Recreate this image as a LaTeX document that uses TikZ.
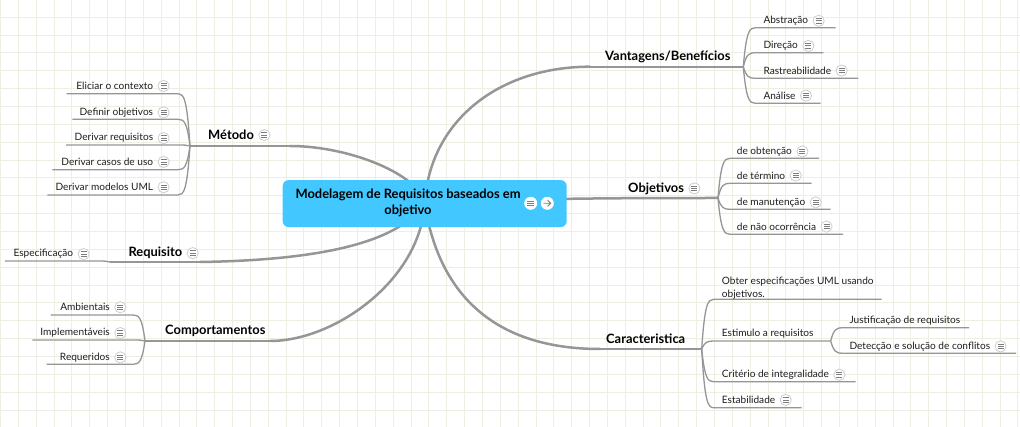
\documentclass[tikz,border=0pt]{standalone}
\usepackage{fontspec}
\setmainfont{Lato}
\usetikzlibrary{calc,backgrounds}
\definecolor{gridc}{RGB}{234,240,226}
\definecolor{linec}{RGB}{150,150,150}
\definecolor{rootc}{RGB}{66,199,255}
\definecolor{ringc}{RGB}{205,205,205}
\definecolor{barc}{RGB}{125,125,125}
\definecolor{txtc}{RGB}{30,30,30}
\tikzset{
  gridline/.style={draw=gridc, line width=1pt},
  mainline/.style={draw=linec, line width=2.5pt, line cap=round},
  topicline/.style={draw=linec, line width=2pt},
  subline/.style={draw=linec, line width=1.3pt},
  child/.style={font=\fontsize{10.1}{12}\selectfont, text=txtc, inner sep=0pt},
  topic/.style={font=\bfseries\fontsize{12.9}{15}\selectfont, text=black, inner sep=0pt},
  noteicon/.pic={
    \fill[white] (0,0) circle (5.6);
    \draw[ringc, line width=0.8pt] (0,0) circle (5.6);
    \draw[barc, line width=0.9pt] (-3,-2.2) -- (3,-2.2) (-3,0) -- (3,0) (-3,2.2) -- (3,2.2);
  },
}
% left-side child: name, bracket, line y, far x, text right x, text
\newcommand\lkid[6]{%
  \coordinate (#1-e) at (#4,#3);
  \coordinate (#1-s) at ($(#2 |- #1-e)+(-12,0)$);
  \node[child, anchor=mid east] (#1) at (#5,#3-6.6) {#6};
  \draw[subline] (#2) .. controls ($(#2)!0.9!(#2 |- #1-e)+(-3,0)$) and ($(#1-s)+(6,0)$) .. (#1-s) -- (#1-e);
}
% right-side child: name, bracket, line y, far x, text left x, text
\newcommand\rkid[6]{%
  \coordinate (#1-e) at (#4,#3);
  \coordinate (#1-s) at ($(#2 |- #1-e)+(12,0)$);
  \node[child, anchor=mid west] (#1) at (#5,#3-6.6) {#6};
  \draw[subline] (#2) .. controls ($(#2)!0.9!(#2 |- #1-e)+(3,0)$) and ($(#1-s)+(-6,0)$) .. (#1-s) -- (#1-e);
}
\newcommand\noteafter[1]{\pic at ($(#1.east)+(10.3,0)$) {noteicon};}
\begin{document}
\begin{tikzpicture}[x=1pt,y=-1pt]
\useasboundingbox (0,0) rectangle (1020,427);

% central topic
\node[fill=rootc, rounded corners=6pt, minimum width=284pt, minimum height=47pt, inner sep=0pt,
      font=\bfseries\fontsize{12.9}{15.7}\selectfont] (root) at (424.7,203.6)
  {\begin{tabular}{@{}c@{}}Modelagem de Requisitos baseados em\\objetivo\end{tabular}\hspace*{33.4pt}};
\fill[white] (530.7,203.3) circle (6.5);
\draw[barc, line width=0.9pt] (527.4,201) -- (534,201) (527.4,203.3) -- (534,203.3) (527.4,205.6) -- (534,205.6);
\fill[white] (547.3,203.3) circle (6.5);
\draw[barc, line width=0.9pt, line cap=round] (543.8,203.3) -- (550.6,203.3) (547.8,200.3) -- (550.8,203.3) -- (547.8,206.3);

% junctions
\coordinate (vanJ) at (590,66.7);  \coordinate (vanB) at (743.3,66.7);
\coordinate (objB) at (718,198);
\coordinate (carJ) at (600,349);   \coordinate (carB) at (701.7,349);
\coordinate (metJ) at (290,146);   \coordinate (metB) at (190,146);
\coordinate (reqJ) at (200,262);   \coordinate (reqB) at (110,262);
\coordinate (comJ) at (270,341);   \coordinate (comB) at (145,341);

\begin{pgfonlayer}{background}
  \fill[white] (0,0) rectangle (1020,427);
  \foreach \i in {0,...,57} \draw[gridline] ({0.5+17.85*\i},0) -- ({0.5+17.85*\i},427);
  \foreach \j in {1,...,24} \draw[gridline] (0,{-0.55+17.85*\j}) -- (1020,{-0.55+17.85*\j});
  \draw[mainline] (root.center) .. controls ($(root.center)+(5,-83.6)$) and ($(vanJ)+(-90,0)$) .. (vanJ);
  \draw[mainline] (root.center) .. controls ($(root.center)+(95,-5)$) and ($(objB)+(-120,0)$) .. (objB);
  \draw[mainline] (root.center) .. controls ($(root.center)+(15,96.4)$) and ($(carJ)+(-100,0)$) .. (carJ);
  \draw[mainline] (root.center) .. controls ($(root.center)+(-4.7,-28.6)$) and ($(metJ)+(60,0)$) .. (metJ);
  \draw[mainline] (root.center) .. controls ($(root.center)+(-25,36.4)$) and ($(reqJ)+(130,-2)$) .. (reqJ);
  \draw[mainline] (root.center) .. controls ($(root.center)+(-4.7,76.4)$) and ($(comJ)+(65,0)$) .. (comJ);
\end{pgfonlayer}

% topic underlines
\draw[topicline] (vanJ) -- (vanB);
\draw[topicline] (carJ) -- (carB);
\draw[topicline] (metJ) -- (metB);
\draw[topicline] (reqJ) -- (reqB);
\draw[topicline] (comJ) -- (comB);

% main topics
\node[topic, anchor=mid west] (van) at (605,58.3) {Vantagens/Benefícios};
\node[topic, anchor=mid west] (obj) at (628,189.5) {Objetivos}; \noteafter{obj}
\node[topic, anchor=mid west] (car) at (606,340.8) {Caracteristica};
\node[topic, anchor=mid west] (met) at (208,137.3) {Método}; \noteafter{met}
\node[topic, anchor=mid west] (req) at (128.3,254.3) {Requisito}; \noteafter{req}
\node[topic, anchor=mid west] (com) at (165,332.3) {Comportamentos};

% Vantagens/Beneficios
\rkid{abs}{vanB}{27.7}{835.7}{763.3}{Abstração} \noteafter{abs}
\rkid{dir}{vanB}{52.7}{823.3}{763.3}{Direção} \noteafter{dir}
\rkid{ras}{vanB}{78.3}{858.3}{763.3}{Rastreabilidade} \noteafter{ras}
\rkid{ana}{vanB}{103.3}{820.7}{763.3}{Análise} \noteafter{ana}

% Objetivos
\rkid{obt}{objB}{158.3}{819}{736.7}{de obtenção} \noteafter{obt}
\rkid{ter}{objB}{183.3}{811.7}{736.7}{de término} \noteafter{ter}
\rkid{man}{objB}{209.3}{830.7}{736.7}{de manutenção} \noteafter{man}
\rkid{nao}{objB}{234.3}{843}{736.7}{de não ocorrência} \noteafter{nao}

% Caracteristica
\coordinate (obter-e) at (881.7,299.3);
\coordinate (obter-s) at ($(carB |- obter-e)+(12,0)$);
\node[child, anchor=west, align=left, font=\fontsize{10.1}{12.3}\selectfont] (obter) at (721.7,288.3)
  {Obter especificações UML usando\\objetivos.};
\draw[subline] (carB) .. controls ($(carB)!0.9!(carB |- obter-e)+(3,0)$) and ($(obter-s)+(-6,0)$) .. (obter-s) -- (obter-e);
\rkid{est}{carB}{341}{830.7}{721.7}{Estimulo a requisitos}
\rkid{jus}{est-e}{327.7}{969}{849.3}{Justificação de requisitos}
\rkid{det}{est-e}{353.3}{1016}{849.3}{Detecção e solução de conflitos} \noteafter{det}
\rkid{cri}{carB}{381.7}{855.7}{721.7}{Critério de integralidade} \noteafter{cri}
\rkid{etb}{carB}{407.7}{801.7}{721.7}{Estabilidade} \noteafter{etb}

% Metodo
\lkid{eli}{metB}{93.7}{66.7}{153.3}{Eliciar o contexto} \noteafter{eli}
\lkid{def}{metB}{119.3}{72.3}{153.3}{Definir objetivos} \noteafter{def}
\lkid{drq}{metB}{145}{66}{153.3}{Derivar requisitos} \noteafter{drq}
\lkid{dcu}{metB}{169.7}{52.3}{153.3}{Derivar casos de uso} \noteafter{dcu}
\lkid{dmu}{metB}{195}{47.3}{153.3}{Derivar modelos UML} \noteafter{dmu}

% Requisito
\lkid{esp}{reqB}{261}{5}{73.3}{Especificação} \noteafter{esp}

% Comportamentos
\lkid{amb}{comB}{315}{50.7}{110}{Ambientais} \noteafter{amb}
\lkid{imp}{comB}{340}{32.3}{110}{Implementáveis} \noteafter{imp}
\lkid{rqd}{comB}{364.3}{46.7}{110}{Requeridos} \noteafter{rqd}
\end{tikzpicture}
\end{document}
